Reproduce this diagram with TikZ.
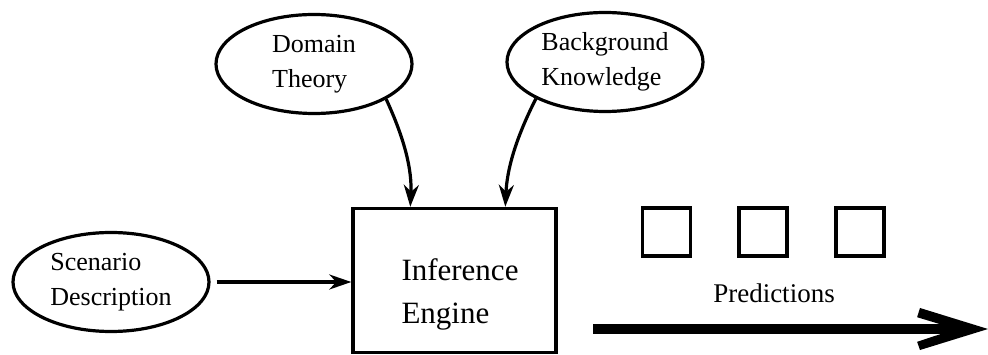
\documentclass[tikz,border=0pt]{standalone}
\usepackage{fontspec}
\setmainfont{Liberation Serif}
\usetikzlibrary{shapes.geometric,arrows.meta}
\begin{document}
\begin{tikzpicture}[x=1pt,y=-1pt,
  oval/.style={ellipse, draw, line width=3.2pt, minimum width=196pt,
    minimum height=99pt, inner sep=0pt, align=left,
    font=\fontsize{26}{35}\selectfont},
  enginebox/.style={draw, line width=3.4pt, minimum width=203pt,
    minimum height=144pt, inner sep=0pt},
  feed/.style={line width=3.2pt,
    -{Stealth[length=22pt,width=15pt,inset=7pt]}},
  slot/.style={draw, line width=3.4pt, minimum size=48pt, inner sep=0pt},
]
\useasboundingbox (0,0) rectangle (988,355);

% knowledge sources
\node[oval] (dt) at (314,64) {Domain\\Theory};
\node[oval] (bk) at (605,62) {Background\\Knowledge};
\node[oval] (sd) at (111,282) {Scenario\\Description};

% the engine
\node[enginebox] (engine) at (454.5,280.5) {};
\node[font=\fontsize{31}{43}\selectfont, align=left] (ie) at (460,294) {Inference\\Engine};

% inputs into the engine
\draw[feed] (dt.-26) .. controls (405,140) and (412,170) .. ([xshift=59pt]engine.north west);
\draw[feed] (bk.-152) .. controls (515,140) and (507,170) .. ([xshift=154pt]engine.north west);
\draw[feed] ([xshift=6pt]sd.east) -- (engine.west |- sd.east);

% predictions
\node[slot] (s1) at (666.5,232) {};
\node[slot] (s2) at (763,232) {};
\node[slot] (s3) at (860,232) {};
\node[font=\fontsize{27}{32}\selectfont, anchor=base] (pred) at (774,303) {Predictions};

% long output arrow with an open chevron head
\coordinate (pstart) at (593,329);
\coordinate (pneck) at (958,329);
\coordinate (ptip) at (988,329);
\draw[line width=10pt] (pstart) -- (pneck);
\fill (ptip) -- ++(-68,-21) -- ++(-2.9,9.2) -- (956,329)
  -- (917.1,341.8) -- (920,350) -- cycle;
\end{tikzpicture}
\end{document}
